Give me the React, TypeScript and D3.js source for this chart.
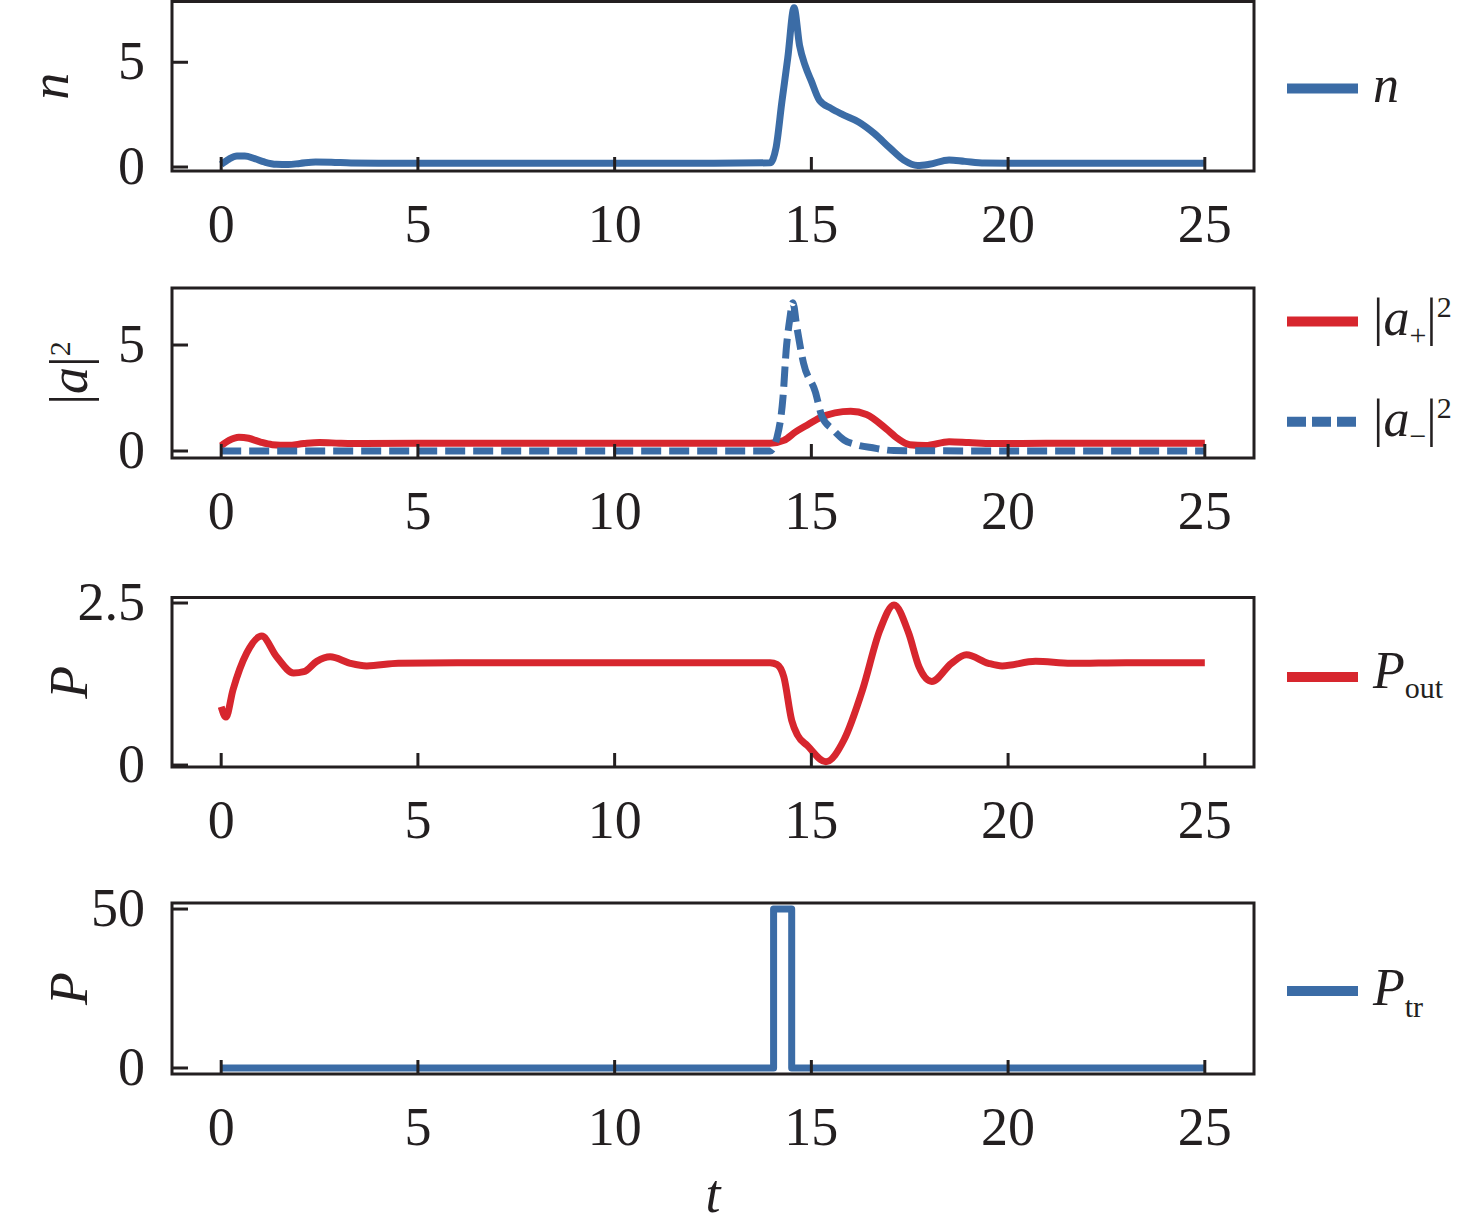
import { useRef, useEffect } from "react";
import * as d3 from "d3";

// time axis shared by all four panels
const xTicks = [0, 5, 10, 15, 20, 25];

// carrier number n(t)
const tN = [0, 0.2, 0.4, 0.6, 0.85, 1.1, 1.4, 1.7, 2.0, 2.4, 2.8, 3.3, 4, 6, 9, 12, 13.95, 14.1, 14.25, 14.4, 14.56, 14.7, 14.85, 15.0, 15.2, 15.5, 15.8, 16.2, 16.6, 17.0, 17.35, 17.7, 18.0, 18.5, 18.9, 19.4, 20, 22.5, 25];
const nVals = [0.12, 0.38, 0.52, 0.52, 0.4, 0.24, 0.13, 0.12, 0.17, 0.24, 0.23, 0.19, 0.18, 0.18, 0.18, 0.18, 0.2, 0.9, 3.1, 5.2, 7.6, 5.8, 4.8, 4.1, 3.2, 2.8, 2.5, 2.15, 1.6, 0.9, 0.33, 0.07, 0.13, 0.34, 0.27, 0.19, 0.18, 0.18, 0.18];

// |a+|^2
const tAPlus = [0, 0.2, 0.45, 0.7, 1.0, 1.3, 1.7, 2.1, 2.5, 3.0, 3.6, 5, 8, 11, 13.95, 14.3, 14.6, 14.9, 15.2, 15.6, 16.0, 16.4, 16.9, 17.2, 17.5, 17.9, 18.5, 19.0, 19.6, 21, 25];
const aPlusVals = [0.25, 0.5, 0.65, 0.6, 0.42, 0.3, 0.27, 0.35, 0.4, 0.37, 0.35, 0.36, 0.36, 0.36, 0.36, 0.5, 0.9, 1.23, 1.55, 1.8, 1.87, 1.72, 1.05, 0.58, 0.3, 0.26, 0.44, 0.4, 0.35, 0.36, 0.36];

// |a-|^2
const tAMinus = [0, 5, 10, 13.95, 14.13, 14.28, 14.36, 14.45, 14.53, 14.63, 14.8, 15.1, 15.27, 15.55, 15.83, 16.18, 16.56, 17.1, 20, 25];
const aMinusVals = [0, 0, 0, 0, 0.67, 2.56, 4.76, 6.2, 7.0, 5.86, 4.15, 2.8, 1.62, 1.0, 0.52, 0.28, 0.15, 0.02, 0, 0];

// output power
const tPout = [0, 0.12, 0.3, 0.65, 1.03, 1.41, 1.84, 2.1, 2.43, 2.77, 3.28, 3.7, 4.5, 6, 9, 12, 13.95, 14.13, 14.3, 14.5, 14.65, 14.9, 15.37, 15.83, 16.3, 16.74, 17.1, 17.47, 17.74, 18.06, 18.56, 18.94, 19.5, 19.85, 20.7, 21.6, 23, 25];
const poutVals = [0.9, 0.74, 1.16, 1.73, 1.99, 1.67, 1.42, 1.44, 1.6, 1.67, 1.57, 1.53, 1.57, 1.58, 1.58, 1.58, 1.58, 1.55, 1.36, 0.69, 0.46, 0.3, 0.05, 0.39, 1.16, 2.08, 2.47, 2.04, 1.51, 1.29, 1.57, 1.7, 1.57, 1.53, 1.6, 1.57, 1.58, 1.58];

// trigger pulse
const tPtr = [0, 14.04, 14.04, 14.5, 14.5, 25];
const ptrVals = [0, 0, 50, 50, 0, 0];

const BLUE = "#3b6ca6";
const RED = "#d7262e";
const INK = "#231f20";
const FONT = "'Liberation Serif', 'Times New Roman', serif";

type Part = { text: string; italic?: boolean; size?: number; dy?: number };

function rich(parent: any, parts: Part[]) {
  const t = parent
    .append("text")
    .attr("font-family", FONT)
    .attr("fill", INK)
    .attr("font-size", 52);
  parts.forEach((p) => {
    t.append("tspan")
      .attr("font-size", p.size ?? 52)
      .attr("font-style", p.italic ? "italic" : "normal")
      .attr("dy", p.dy ?? 0)
      .text(p.text);
  });
  return t;
}

export default function App() {
  const svgRef = useRef<SVGSVGElement | null>(null);

  useEffect(() => {
    const svg = d3.select(svgRef.current);
    svg.selectAll("*").remove();

    const x = d3.scaleLinear().domain([-1.25, 26.25]).range([172, 1254]);

    const panels = [
      {
        top: 1.5, bottom: 171, domain: [-0.19, 7.9], ticks: [0, 5],
        labelX: 68, label: [{ text: "n", italic: true }] as Part[],
        series: [{ t: tN, v: nVals, color: BLUE, dash: null, smooth: true }],
        legend: [{ y: 88.5, base: 102, color: BLUE, dash: null, parts: [{ text: "n", italic: true }] as Part[] }],
      },
      {
        top: 288, bottom: 458, domain: [-0.33, 7.69], ticks: [0, 5],
        labelX: 87,
        label: [{ text: "|" }, { text: "a", italic: true }, { text: "|" }, { text: "2", size: 30, dy: -17 }] as Part[],
        series: [
          { t: tAPlus, v: aPlusVals, color: RED, dash: null, smooth: true },
          { t: tAMinus, v: aMinusVals, color: BLUE, dash: "20 8", smooth: true },
        ],
        legend: [
          {
            y: 321.5, base: 335, color: RED, dash: null,
            parts: [{ text: "|" }, { text: "a", italic: true }, { text: "+", size: 30, dy: 10 }, { text: "|", dy: -10 }, { text: "2", size: 30, dy: -18 }] as Part[],
          },
          {
            y: 421.7, base: 436, color: BLUE, dash: "20 8",
            parts: [{ text: "|" }, { text: "a", italic: true }, { text: "\u2212", size: 30, dy: 10 }, { text: "|", dy: -10 }, { text: "2", size: 30, dy: -18 }] as Part[],
          },
        ],
      },
      {
        top: 597.5, bottom: 767, domain: [-0.03, 2.585], ticks: [0, 2.5],
        labelX: 87, label: [{ text: "P", italic: true }] as Part[],
        series: [{ t: tPout, v: poutVals, color: RED, dash: null, smooth: true }],
        legend: [{ y: 677, base: 688, color: RED, dash: null, parts: [{ text: "P", italic: true }, { text: "out", size: 30, dy: 10 }] as Part[] }],
      },
      {
        top: 903, bottom: 1074, domain: [-1.89, 51.9], ticks: [0, 50],
        labelX: 87, label: [{ text: "P", italic: true }] as Part[],
        series: [{ t: tPtr, v: ptrVals, color: BLUE, dash: null, smooth: false }],
        legend: [{ y: 991, base: 1005, color: BLUE, dash: null, parts: [{ text: "P", italic: true }, { text: "tr", size: 30, dy: 12 }] as Part[] }],
      },
    ];

    panels.forEach((p) => {
      const y = d3.scaleLinear().domain(p.domain).range([p.bottom, p.top]);
      const g = svg.append("g");

      // curves
      p.series.forEach((s) => {
        const line = d3
          .line<number>()
          .x((_, i) => x(s.t[i]))
          .y((d) => y(d))
          .curve(s.smooth ? d3.curveMonotoneX : d3.curveLinear);
        g.append("path")
          .attr("d", line(s.v))
          .attr("fill", "none")
          .attr("stroke", s.color)
          .attr("stroke-width", 7)
          .attr("stroke-linejoin", "round")
          .attr("stroke-dasharray", s.dash);
      });

      // frame
      g.append("rect")
        .attr("x", 172)
        .attr("y", p.top)
        .attr("width", 1254 - 172)
        .attr("height", p.bottom - p.top)
        .attr("fill", "none")
        .attr("stroke", INK)
        .attr("stroke-width", 3);

      // x ticks pointing inward, labels below
      xTicks.forEach((t) => {
        g.append("line")
          .attr("x1", x(t)).attr("x2", x(t))
          .attr("y1", p.bottom).attr("y2", p.bottom - 14)
          .attr("stroke", INK).attr("stroke-width", 3);
        g.append("text")
          .attr("x", x(t))
          .attr("y", p.bottom + 71)
          .attr("text-anchor", "middle")
          .attr("font-family", FONT)
          .attr("font-size", 54)
          .attr("fill", INK)
          .text(t);
      });

      // y ticks
      p.ticks.forEach((v) => {
        g.append("line")
          .attr("x1", 172).attr("x2", 188)
          .attr("y1", y(v)).attr("y2", y(v))
          .attr("stroke", INK).attr("stroke-width", 3);
        g.append("text")
          .attr("x", 145)
          .attr("y", y(v) + 17)
          .attr("text-anchor", "end")
          .attr("font-family", FONT)
          .attr("font-size", 54)
          .attr("fill", INK)
          .text(String(v));
      });

      // y label
      const lg = g
        .append("g")
        .attr("transform", `translate(${p.labelX},${(p.top + p.bottom) / 2}) rotate(-90)`);
      rich(lg, p.label.map((q) => ({ ...q, size: q.size ?? 54 }))).attr("text-anchor", "middle");

      // legend
      p.legend.forEach((l) => {
        g.append("line")
          .attr("x1", 1287).attr("x2", 1358)
          .attr("y1", l.y).attr("y2", l.y)
          .attr("stroke", l.color)
          .attr("stroke-width", 10)
          .attr("stroke-dasharray", l.dash ? "19 6" : null);
        rich(g, l.parts).attr("x", 1373).attr("y", l.base);
      });
    });

    svg.append("text")
      .attr("x", 713)
      .attr("y", 1212)
      .attr("text-anchor", "middle")
      .attr("font-family", FONT)
      .attr("font-style", "italic")
      .attr("font-size", 54)
      .attr("fill", INK)
      .text("t");
  }, []);

  return (
    <svg
      ref={svgRef}
      width={1476}
      height={1230}
      style={{ position: "absolute", left: 0, top: 0, background: "#fff" }}
    />
  );
}
